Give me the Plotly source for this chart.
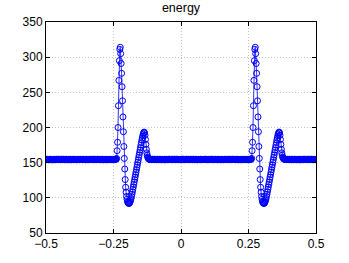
import numpy as np
import plotly.graph_objects as go

# ---- data ----
baseline_a = [
    154.6, 154.2, 154.9, 154.4, 154.7, 154.1, 154.5, 154.8, 154.3, 154.6,
    154.4, 154.9, 154.2, 154.6, 154.5, 154.0, 154.7, 154.3, 154.8, 154.5,
    154.1, 154.6, 154.4, 154.9, 154.3, 154.7, 154.5, 154.2, 154.8, 154.4,
    154.7, 154.3, 154.6, 154.1, 154.9, 154.5, 154.2, 154.7, 154.4, 154.8,
    154.5, 154.1, 154.8, 154.4, 154.6, 154.9, 154.3, 154.5, 154.2, 154.7,
    154.4, 154.8, 154.2, 154.6, 154.3, 154.9, 154.5, 154.1, 154.7, 154.4,
    154.9, 154.5, 154.3, 154.8, 154.2, 154.6, 154.4, 154.7, 154.1, 154.5,
    154.3, 154.7, 154.5, 154.9, 154.4, 154.2, 154.8, 154.6, 154.3, 154.5,
    154.6, 154.2, 154.9, 154.4, 154.7, 154.3, 154.5, 154.8, 154.1, 154.6,
    154.4, 154.8, 154.3, 154.6, 154.5, 154.2, 154.7, 154.4, 154.9, 154.5,
    154.2, 154.6, 154.4, 154.8, 154.3, 154.7, 154.5, 154.1, 154.8, 154.4,
    154.7, 154.4, 154.6, 154.2, 154.9, 154.5, 154.3, 154.7, 154.4, 154.6,
    154.5, 154.2, 154.8, 154.4, 154.6, 154.9, 154.3, 154.5, 154.1, 154.7,
    154.4, 154.7, 154.2, 154.6, 154.3, 154.8, 154.5, 154.2, 154.7, 154.4,
    154.8, 154.5, 154.3, 154.7, 154.2, 154.6, 154.4, 154.8, 154.3, 154.5,
    154.4, 154.6, 154.3, 154.7, 154.5, 154.8, 155.0,
]

pulse_1 = [
    156.0, 167.0, 179.0, 200.0, 231.0, 267.0, 295.0, 311.0, 314.0, 305.0,
    291.0, 277.0, 258.0, 238.0, 215.0, 194.0, 173.0, 156.0, 141.0, 126.0,
    115.0, 108.0, 102.0, 98.0, 95.0, 93.5, 92.5, 92.0, 92.3, 93.0,
    94.5, 96.5, 99.0, 102.0, 105.0, 108.5, 112.0, 115.5, 119.0, 122.5,
    126.0, 129.5, 133.0, 136.5, 140.0, 143.5, 147.0, 150.5, 154.0, 157.5,
    161.0, 164.5, 168.0, 171.5, 175.0, 178.5, 182.0, 185.0, 188.0, 190.5,
    192.5, 193.5, 192.5, 189.0, 183.0, 176.0, 169.0, 164.0, 160.5, 158.0,
    156.5, 155.5, 155.0,
]

baseline_b = [
    154.8, 154.5, 154.9, 154.4, 154.7, 154.3, 154.6, 154.8, 154.2, 154.6,
    154.4, 154.9, 154.2, 154.6, 154.5, 154.1, 154.7, 154.3, 154.8, 154.5,
    154.2, 154.6, 154.4, 154.9, 154.3, 154.7, 154.5, 154.2, 154.8, 154.4,
    154.7, 154.3, 154.6, 154.1, 154.9, 154.5, 154.2, 154.7, 154.4, 154.8,
    154.5, 154.1, 154.8, 154.4, 154.6, 154.9, 154.3, 154.5, 154.2, 154.7,
    154.4, 154.8, 154.2, 154.6, 154.3, 154.9, 154.5, 154.1, 154.7, 154.4,
    154.9, 154.5, 154.3, 154.8, 154.2, 154.6, 154.4, 154.7, 154.1, 154.5,
    154.3, 154.7, 154.5, 154.9, 154.4, 154.2, 154.8, 154.6, 154.3, 154.5,
    154.6, 154.2, 154.9, 154.4, 154.7, 154.3, 154.5, 154.8, 154.1, 154.6,
    154.4, 154.8, 154.3, 154.6, 154.5, 154.2, 154.7, 154.4, 154.9, 154.5,
    154.2, 154.6, 154.4, 154.8, 154.3, 154.7, 154.5, 154.1, 154.8, 154.4,
    154.7, 154.4, 154.6, 154.2, 154.9, 154.5, 154.3, 154.7, 154.4, 154.6,
    154.5, 154.2, 154.8, 154.4, 154.6, 154.9, 154.3, 154.5, 154.1, 154.7,
    154.4, 154.7, 154.2, 154.6, 154.3, 154.8, 154.5, 154.2, 154.7, 154.4,
    154.8, 154.5, 154.3, 154.7, 154.2, 154.6, 154.4, 154.8, 154.3, 154.5,
    154.6, 154.2, 154.9, 154.4, 154.7, 154.3, 154.5, 154.8, 154.1, 154.6,
    154.4, 154.8, 154.3, 154.6, 154.5, 154.2, 154.7, 154.4, 154.9, 154.5,
    154.2, 154.6, 154.4, 154.8, 154.3, 154.7, 154.5, 154.1, 154.8, 154.4,
    154.7, 154.4, 154.6, 154.2, 154.9, 154.5, 154.3, 154.7, 154.4, 154.6,
    154.5, 154.2, 154.8, 154.4, 154.6, 154.9, 154.3, 154.5, 154.1, 154.7,
    154.4, 154.7, 154.2, 154.6, 154.3, 154.8, 154.5, 154.2, 154.7, 154.4,
    154.8, 154.5, 154.3, 154.7, 154.2, 154.6, 154.4, 154.8, 154.3, 154.5,
    154.4, 154.6, 154.3, 154.7, 154.5, 154.8, 155.0,
]

pulse_2 = [
    156.0, 167.0, 179.0, 200.0, 231.0, 267.0, 295.0, 311.0, 314.0, 305.0,
    291.0, 277.0, 258.0, 238.0, 215.0, 194.0, 173.0, 156.0, 141.0, 126.0,
    115.0, 108.0, 102.0, 98.0, 95.0, 93.5, 92.5, 92.0, 92.3, 93.0,
    94.5, 96.5, 99.0, 102.0, 105.0, 108.5, 112.0, 115.5, 119.0, 122.5,
    126.0, 129.5, 133.0, 136.5, 140.0, 143.5, 147.0, 150.5, 154.0, 157.5,
    161.0, 164.5, 168.0, 171.5, 175.0, 178.5, 182.0, 185.0, 188.0, 190.5,
    192.5, 193.5, 192.5, 189.0, 183.0, 176.0, 169.0, 164.0, 160.5, 158.0,
    156.5, 155.5, 155.0,
]

baseline_c = [
    154.8, 154.5, 154.9, 154.4, 154.7, 154.3, 154.6, 154.8, 154.2, 154.6,
    154.4, 154.9, 154.2, 154.6, 154.5, 154.1, 154.7, 154.3, 154.8, 154.5,
    154.2, 154.6, 154.4, 154.9, 154.3, 154.7, 154.5, 154.2, 154.8, 154.4,
    154.7, 154.3, 154.6, 154.1, 154.9, 154.5, 154.2, 154.7, 154.4, 154.8,
    154.5, 154.1, 154.8, 154.4, 154.6, 154.9, 154.3, 154.5, 154.2, 154.7,
    154.4, 154.8, 154.2, 154.6, 154.3, 154.9, 154.5, 154.1, 154.7, 154.4,
    154.9, 154.5, 154.3, 154.8, 154.2, 154.6, 154.4, 154.7, 154.1, 154.5,
    154.3,
]

x_tick_vals = [-0.5, -0.25, 0, 0.25, 0.5]
x_tick_text = ["\u22120.5", "\u22120.25", "0", "0.25", "0.5"]
y_tick_vals = [50, 100, 150, 200, 250, 300, 350]

assert len(baseline_a) == 157, len(baseline_a)
assert len(pulse_1) == 73, len(pulse_1)
assert len(baseline_b) == 227, len(baseline_b)
assert len(pulse_2) == 73, len(pulse_2)
assert len(baseline_c) == 71, len(baseline_c)

energy = baseline_a + pulse_1 + baseline_b + pulse_2 + baseline_c
t = np.linspace(-0.5, 0.5, len(energy))  # sampling grid

FONT = "Liberation Sans, Arial, Helvetica, sans-serif"

fig = go.Figure()
fig.add_trace(go.Scatter(
    x=t, y=energy, mode="lines+markers",
    line=dict(color="rgb(0,0,255)", width=0.8),
    marker=dict(symbol="circle-open", size=6, color="rgb(0,0,255)",
                line=dict(width=1, color="rgb(0,0,255)")),
    showlegend=False, hoverinfo="skip",
))

axis_common = dict(
    showline=True, linecolor="black", linewidth=1, mirror="ticks",
    ticks="inside", ticklen=4, tickwidth=1, tickcolor="black",
    showgrid=True, gridcolor="#c4c4c4", griddash="1px,2px", gridwidth=1,
    zeroline=False, automargin=False,
    tickfont=dict(family=FONT, size=12, color="black"),
)

fig.update_xaxes(range=[-0.5, 0.5], tickvals=x_tick_vals, ticktext=x_tick_text,
                 **axis_common)
fig.update_yaxes(range=[50, 350], tickvals=y_tick_vals, **axis_common)

fig.update_layout(
    template="none",
    width=349, height=263,
    margin=dict(l=46, r=33, t=22, b=30, pad=0, autoexpand=False),
    paper_bgcolor="white", plot_bgcolor="white",
    title=dict(text="energy", x=0.5, xref="paper", y=1 - 8 / 263,
               yref="container", yanchor="middle", xanchor="center",
               font=dict(family=FONT, size=12.5, color="black")),
    font=dict(family=FONT, size=12, color="black"),
)

fig.write_html(
    "out.html",
    config={"displayModeBar": False},
    post_script="document.body.style.margin='0';document.body.style.padding='0';"
                "document.body.style.overflow='hidden';",
)
